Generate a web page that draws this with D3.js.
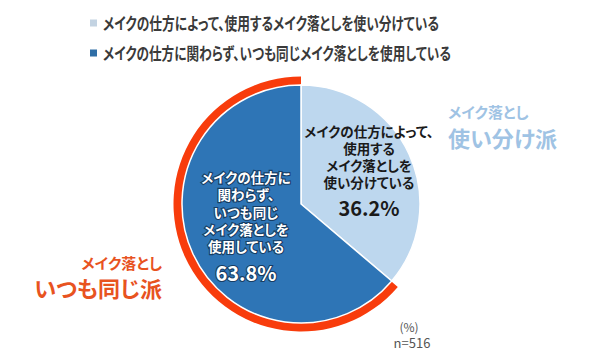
<!DOCTYPE html>
<html><head><meta charset="utf-8">
<script src="https://cdn.jsdelivr.net/npm/d3@7"></script>
<style>
html,body{margin:0;padding:0;background:#fff;}
svg text{font-family:"Noto Sans CJK JP","Noto Sans",sans-serif;font-feature-settings:"palt";}
</style></head>
<body><svg id="c" width="600" height="360"></svg>
<script>
const categories = ["使い分け派", "いつも同じ派"];
const legendLabels = [
  "メイクの仕方によって、使用するメイク落としを使い分けている",
  "メイクの仕方に関わらず、いつも同じメイク落としを使用している"
];
const values = [36.2, 63.8];
const sliceLabels = [
  ["メイクの仕方によって、", "使用する", "メイク落としを", "使い分けている"],
  ["メイクの仕方に", "関わらず、", "いつも同じ", "メイク落としを", "使用している"]
];
const groupTitles = [["メイク落とし", "使い分け派"], ["メイク落とし", "いつも同じ派"]];
const unitLabel = "(%)";
const sampleLabel = "n=516";

const colors = ["#bdd7ee", "#2e75b6"];
const legendColors = ["#c3d3e2", "#2f6ea6"];
const titleColors = ["#9fc3e4", "#e8531f"];

const svg = d3.select("#c");
const cx = 301, cy = 204, r = 119;

// Legend
const lg = svg.append("g");
const legendY = [23, 53];
const legendW = [336, 348];
legendLabels.forEach((t, i) => {
  lg.append("rect").attr("x", 90).attr("y", legendY[i] - 3.5).attr("width", 7).attr("height", 7)
    .attr("fill", legendColors[i]);
  lg.append("text").attr("x", 103).attr("y", legendY[i]).attr("dominant-baseline", "central")
    .attr("font-size", 16.5).attr("font-weight", "bold").attr("fill", "#3a3a3a")
    .attr("textLength", legendW[i]).attr("lengthAdjust", "spacingAndGlyphs").text(t);
});

const pie = d3.pie().sort(null).value(d => d);
const arcs = pie(values);
const arc = d3.arc().innerRadius(0).outerRadius(r);
const g = svg.append("g").attr("transform", `translate(${cx},${cy})`);

// red ring around the "always same" slice
const ring = d3.arc().innerRadius(r - 1).outerRadius(r + 8.5);
g.append("path").attr("d", ring({startAngle: arcs[1].startAngle + 0.005, endAngle: arcs[1].endAngle}))
  .attr("fill", "#f83c0c");

g.selectAll("path.s").data(arcs).join("path").attr("class", "s")
  .attr("d", arc).attr("fill", (d, i) => colors[i])
  .attr("stroke", "#fff").attr("stroke-width", 1.5);

// Slice labels (multi-line, as tspans)
const labelPos = [{x: 369, y0: 132, step: 17, pctY: 207, fill: "#1a1a1a"},
                  {x: 246, y0: 178, step: 17.3, pctY: 272, fill: "#ffffff"}];
sliceLabels.forEach((lines, i) => {
  const p = labelPos[i];
  const tx = svg.append("text").attr("text-anchor", "middle")
    .attr("font-size", 13.5).attr("font-weight", "bold").attr("fill", p.fill);
  lines.forEach((t, j) => {
    tx.append("tspan").attr("x", p.x).attr("y", p.y0 + j * p.step + 5).text(t);
  });
  const pt = svg.append("text").attr("x", p.x).attr("y", p.pctY)
    .attr("text-anchor", "middle").attr("dominant-baseline", "central")
    .attr("font-size", 20).attr("font-weight", "bold").attr("fill", p.fill)
    .text(d3.format(".1f")(values[i]) + "%");
  if (i === 1) {
    [tx, pt].forEach(s => s.attr("stroke", "#173d63").attr("stroke-width", 2.2).attr("paint-order", "stroke"));
  }
});

// Group titles
const tpos = [{x: 448, anchor: "start", y: [111, 137]}, {x: 162, anchor: "end", y: [262, 287]}];
groupTitles.forEach((lines, i) => {
  const p = tpos[i];
  svg.append("text").attr("x", p.x).attr("y", p.y[0]).attr("text-anchor", p.anchor)
    .attr("dominant-baseline", "central").attr("font-size", 15).attr("font-weight", "bold")
    .attr("fill", titleColors[i]).text(lines[0]);
  svg.append("text").attr("x", p.x).attr("y", p.y[1]).attr("text-anchor", p.anchor)
    .attr("dominant-baseline", "central").attr("font-size", 22).attr("font-weight", "bold")
    .attr("fill", titleColors[i]).text(lines[1]);
});

svg.append("text").attr("x", 409).attr("y", 326).attr("text-anchor", "middle")
  .attr("dominant-baseline", "central").attr("font-size", 12).attr("fill", "#555").text(unitLabel);
svg.append("text").attr("x", 412).attr("y", 342).attr("text-anchor", "middle")
  .attr("dominant-baseline", "central").attr("font-size", 13).attr("fill", "#555").text(sampleLabel);
</script></body></html>
